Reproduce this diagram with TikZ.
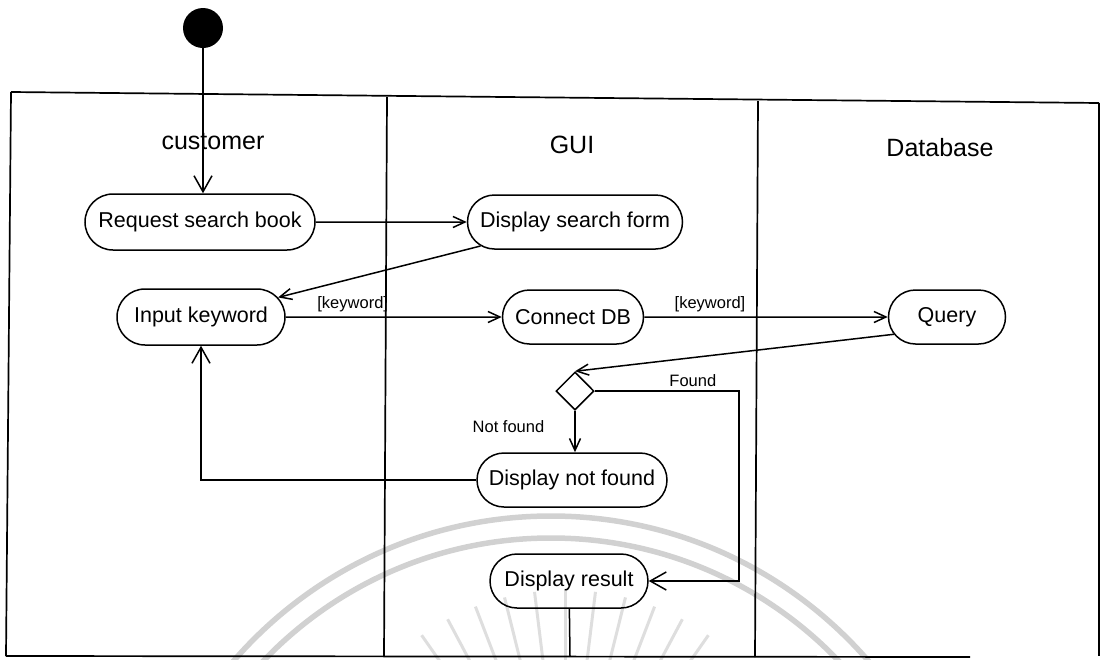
\documentclass[tikz,border=0pt]{standalone}
\usepackage{fontspec}
\setmainfont{Liberation Sans}
\usetikzlibrary{arrows.meta,shapes.misc,shapes.geometric}
\begin{document}
\begin{tikzpicture}[x=1pt,y=-1pt,
  act/.style={rounded rectangle, draw, line width=1.5pt, minimum height=54pt, inner xsep=0pt, font=\fontsize{21.5}{24}\selectfont},
  lane/.style={font=\fontsize{25}{28}\selectfont},
  lbl/.style={font=\fontsize{16.5}{18}\selectfont, inner sep=2pt},
  flow/.style={line width=1.5pt, -{Straight Barb[length=12pt,width=11pt]}},
  bigflow/.style={line width=1.5pt, -{Straight Barb[length=16pt,width=18pt]}},
  plain/.style={line width=1.5pt},
  frame/.style={line width=1.7pt},
  wm/.style={black!18, line width=5.5pt},
  ray/.style={black!13, line width=3pt}
]
\useasboundingbox (0,0) rectangle (1101,659);
% faint watermark
\begin{scope}
  \clip (0,0) rectangle (1101,659);
  \draw[wm] (551,936) circle (420);
  \draw[wm] (551,936) circle (398);
  \foreach \a in {-55,-62,...,-125} \draw[ray] (565,840)+(\a:175) -- +(\a:250);
\end{scope}
% swimlane frame
\draw[frame] (11,92) -- (1099,103);
\draw[frame] (11,92) -- (6,656);
\draw[frame] (6,656) -- (970,657);
\draw[frame] (1099,103) -- (1099,656);
\draw[frame] (387,97) -- (384,656);
\draw[frame] (758,101) -- (755,657);
% lane titles
\node[lane] (lcust) at (213,142) {customer};
\node[lane] (lgui) at (572,145) {GUI};
\node[lane] (ldb) at (940,148) {Database};
% nodes
\node[circle, fill, minimum size=40pt, inner sep=0pt] (init) at (203,28) {};
\node[act, minimum width=230pt, minimum height=56pt] (req) at (200,222) {Request search book};
\node[act, minimum width=215pt] (dsf) at (575,222) {Display search form};
\node[act, minimum width=168pt, minimum height=56pt] (ink) at (201,317) {Input keyword};
\node[act, minimum width=141pt] (cdb) at (573,317) {Connect DB};
\node[act, minimum width=117pt] (qry) at (947,317) {Query};
\node[diamond, draw, line width=1.5pt, minimum size=38pt, inner sep=0pt] (dia) at (575,391) {};
\node[act, minimum width=190pt] (dnf) at (572,480) {Display not found};
\node[act, minimum width=158pt] (dres) at (569,581) {Display result};
\coordinate (fc) at (739,391);
\coordinate (dend) at (570,656);
% connectors
\draw[bigflow] (init) -- (init |- req.north);
\draw[flow] (req) -- (dsf);
\draw[flow] (dsf) -- (ink);
\draw[flow] (ink) -- node[lbl, above=2pt, pos=0.31] {[keyword]} (cdb);
\draw[flow] (cdb) -- node[lbl, above=2pt, pos=0.27] {[keyword]} (qry);
\draw[flow] (qry.198) -- (dia.north);
\draw[flow] (dia.south) -- node[lbl, left=28pt, pos=0.37] {Not found} (dia.south |- dnf.north);
\draw[bigflow] (dia.east) -- node[lbl, above=2pt, pos=0.68] {Found} (fc) |- (dres.east);
\draw[bigflow] (dnf.west) -| (ink.south);
\draw[plain] (dres) -- (dend);
\end{tikzpicture}
\end{document}
